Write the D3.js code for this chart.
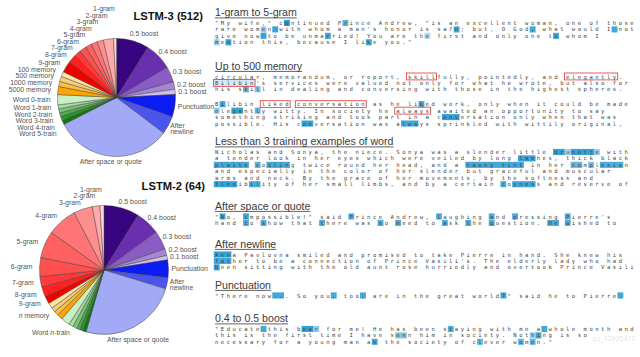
<!DOCTYPE html>
<html><head><meta charset="utf-8">
<script src="https://cdn.jsdelivr.net/npm/d3@7"></script>
<style>html,body{margin:0;padding:0;background:#fff;}svg{display:block}</style>
</head><body>
<svg id="c" width="640" height="357"></svg>
<script>
// ---------------- DATA ----------------
const categories = ["0.5 boost","0.4 boost","0.3 boost","0.2 boost","0.1 boost","Punctuation","After newline","After space or quote",
  "Word 5-train","Word 4-train","Word 3-train","Word 2-train","Word 1-train","Word 0-train",
  "5000 memory","1000 memory","500 memory","100 memory",
  "9-gram","8-gram","7-gram","6-gram","5-gram","4-gram","3-gram","2-gram","1-gram"];
// share of errors (%) per category
const lstm3Values = [8.9,7.5,4.3,2.1,1.4,6.1,5.0,32.2, 1.1,1.1,1.1,1.1,1.1,2.8, 2.2,1.4,1.4,1.4, 3.1,2.2,1.9,1.9,1.7,1.7,1.7,2.8,0.8];
const lstm2Values = [8.8,6.1,4.7,1.7,1.1,4.4,2.8,24.7, 0.8,0.8,0.8,1.1,1.1,2.2, 1.4,1.1,1.1,1.4, 1.9,2.5,2.6,4.7,6.7,7.5,4.7,1.9,1.0];
const lstm3Labels = categories.slice();
const lstm2Labels = ["0.5 boost","0.4 boost","0.3 boost","0.2 boost","0.1 boost","Punctuation","After newline","After space or quote",
  "Word n-train","Word n-train","Word n-train","Word n-train","Word n-train","Word n-train",
  "n memory","n memory","n memory","n memory",
  "9-gram","8-gram","7-gram","6-gram","5-gram","4-gram","3-gram","2-gram","1-gram"];
const pieTitles = ["LSTM-3 (512)","LSTM-2 (64)"];

const sectionTitles = ["1-gram to 5-gram","Up to 500 memory","Less than 3 training examples of word","After space or quote","After newline","Punctuation","0.4 to 0.5 boost"];
const sectionLines = [
 ['"My wife," continued Prince Andrew, "is an excellent woman, one of those',
  "rare women with whom a man's honor is safe; but, O God, what would I not",
  "give now to be unmarried! You are the first and only one to whom I",
  'mention this, because I like you."'],
 ["circular, memorandum, or report, skillfully, pointedly, and elegantly.",
  "Bilibin's services were valued not only for what he wrote, but also for",
  "his skill in dealing and conversing with those in the highest spheres.",
  "",
  "Bilibin liked conversation as he liked work, only when it could be made",
  "elegantly witty. In society he always awaited an opportunity to say",
  "something striking and took part in a conversation only when that was",
  "possible. His conversation was always sprinkled with wittily original,"],
 ["Nicholas and Sonya, the niece. Sonya was a slender little brunette with",
  "a tender look in her eyes which were veiled by long lashes, thick black",
  "plaits coiling twice round her head, and a tawny tint in her complexion",
  "and especially in the color of her slender but graceful and muscular",
  "arms and neck. By the grace of her movements, by the softness and",
  "flexibility of her small limbs, and by a certain coyness and reserve of"],
 ['"No, impossible!" said Prince Andrew, laughing and pressing Pierre\'s',
  "hand to show that there was no need to ask the question. He wished to"],
 ["Anna Pavlovna smiled and promised to take Pierre in hand. She knew his",
  "father to be a connection of Prince Vasili's. The elderly lady who had",
  "been sitting with the old aunt rose hurriedly and overtook Prince Vasili"],
 ['"There now... So you, too, are in the great world?" said he to Pierre.'],
 ['"Educate this bear for me! He has been staying with me a whole month and',
  "this is the first time I have seen him in society. Nothing is so",
  'necessary for a young man as the society of clever women."']
];
// [section, line, word, offset in word, length, activation]
const highlights = [
 [0,0,"continued",1,1,.95],[0,0,"Prince",1,1,.75],
 [0,1,"women",3,1,.45],[0,1,"women ",5,1,.9],[0,1,"safe;",3,1,.85],[0,1,"God,",3,1,.85],[0,1,"I not",1,1,.85],
 [0,2,"now to",3,1,.9],[0,2,"unmarried",4,1,.85],[0,2,"the first",2,1,.35],[0,2,"to whom",1,1,.85],
 [0,3,"mention",0,1,.45],[0,3,"mention",2,1,.9],[0,3,"like",2,1,.85],
 [1,1,"Bilibin",0,7,.2],[1,2,"skill",1,1,.7],[1,2,"skill",3,1,.6],
 [1,4,"Bilibin",1,1,.85],[1,4,"liked work",2,1,.85],
 [1,5,"elegantly",0,1,.5],[1,5,"elegantly",3,2,.9],[1,5,"elegantly",7,1,.7],
 [1,6,"conversation",1,3,.9],[1,7,"conversation",1,2,.9],[1,7,"always",1,3,.85],
 [2,0,"brunette",0,2,.9],[2,0,"brunette",2,1,.4],[2,0,"brunette",3,4,.9],[2,0,"brunette",7,1,.45],
 [2,1,"lashes",0,3,.9],
 [2,2,"plaits",0,6,.85],[2,2,"coiling",0,1,.75],[2,2,"coiling",2,4,.85],[2,2,"tawny tint",0,10,.85],
 [2,2,"complexion",0,2,.7],[2,2,"complexion",3,1,.6],[2,2,"complexion",5,4,.8],
 [2,5,"flexibility",0,4,.9],[2,5,"flexibility",6,2,.8],[2,5,"coyness",0,1,.8],[2,5,"coyness",2,4,.85],
 [3,0,"No,",0,1,.85],[3,0,"impossible",0,1,.85],[3,0,"Prince",0,1,.8],[3,0,"laughing",0,1,.8],[3,0,"and pressing",0,1,.8],[3,0,"pressing",0,1,.8],[3,0,"Pierre",0,1,.8],
 [3,1,"to show",0,1,.8],[3,1,"show",0,1,.8],[3,1,"there",0,1,.8],[3,1,"no need",0,1,.8],[3,1,"need",0,1,.8],[3,1,"ask",0,1,.8],[3,1,"the question",0,1,.8],[3,1,"question",0,1,.8],[3,1,"He",0,2,.8],[3,1,"wished",0,1,.8],
 [4,0,"Anna",0,3,.9],[4,1,"father",0,3,.85],[4,2,"been",0,1,.9],
 [5,0,"now...",3,2,.85],[5,0,"you,",3,1,.85],[5,0,"too,",3,1,.85],[5,0,"world?",5,1,.85],[5,0,"Pierre.",6,1,.85],
 [6,0,"Educate this",7,1,.85],[6,0,"bear",1,2,.9],[6,0,"bear",3,1,.5],[6,0,"staying",1,1,.8],[6,0,"a whole",1,1,.85],
 [6,1,"seen",1,2,.55],[6,1,"Nothing",3,1,.45],[6,1,"Nothing",4,1,.85],
 [6,2,"as the",1,1,.85],[6,2,"clever",1,1,.7],[6,2,"women",1,1,.7],[6,2,"women",3,1,.7]
];
// [section, line, word, offset, length]
const redBoxes = [[1,0,"skillfully",0,5],[1,0,"elegantly",0,9],[1,1,"Bilibin",0,7],[1,4,"liked",0,5],[1,4,"conversation",0,12],[1,5,"always",0,6]];
const watermark = "qq_42835423";

// ---------------- STYLE ----------------
const colors = ["#38047f","#6a2fae","#8b5cc4","#a586d3","#cfc0ef","#0b1cf2","#4b55ec","#a2a9f6",
  "#0e7a0e","#2a962a","#4cad4c","#7ac47a","#a6dca0","#c9f0c3",
  "#ffa400","#ffbf3c","#f6cf7c","#ffe3a0",
  "#f20000","#ff2020","#ff3a3a","#ff5050","#ff6060","#ff7474","#ff8e8e","#ffaaaa","#ffd6d6"];
const svg = d3.select("#c");
const SANS = "'Liberation Sans', Arial, sans-serif";

function drawPie(values, labels, cx, cy, r, title, titleRight, titleY) {
  const data = categories.map((c,i)=>({c, v: values[i], color: colors[i], label: labels[i]}));
  const arcs = d3.pie().sort(null).value(d=>d.v)(data);
  const arc = d3.arc().innerRadius(0).outerRadius(r);
  const g = svg.append("g").attr("transform", `translate(${cx},${cy})`);
  g.selectAll("path").data(arcs).join("path")
    .attr("d", arc).attr("fill", d=>d.data.color)
    .attr("stroke", "#3a3a3a").attr("stroke-width", 0.45).attr("stroke-linejoin","round");

  const groups = [];
  arcs.forEach(a => {
    const last = groups[groups.length-1];
    if (last && last.label === a.data.label) last.end = a.endAngle;
    else groups.push({label: a.data.label, start: a.startAngle, end: a.endAngle});
  });
  const R = r + 7, lh = 6.5;
  groups.forEach(gp => {
    const a = (gp.start+gp.end)/2, deg = a*180/Math.PI;
    gp.lines = gp.label === "After newline" ? ["After","newline"] : [gp.label];
    gp.h = gp.lines.length*lh;
    gp.x = R*Math.sin(a); gp.y = -R*Math.cos(a);
    if (deg >= 140 && deg <= 200) { gp.side = "mid"; gp.y = r + 5; }
    else gp.side = Math.sin(a) < 0 ? "left" : "right";
  });
  ["left","right"].forEach(side => {
    const items = groups.filter(d=>d.side===side);
    const up = items.filter(d=>d.y<0).sort((a,b)=>b.y-a.y);
    const down = items.filter(d=>d.y>=0).sort((a,b)=>a.y-b.y);
    for (let i=1;i<up.length;i++) up[i].y = Math.min(up[i].y, up[i-1].y - (up[i].h+up[i-1].h)/2);
    for (let i=1;i<down.length;i++) down[i].y = Math.max(down[i].y, down[i-1].y + (down[i].h+down[i-1].h)/2);
  });
  groups.forEach(gp => {
    const lim = Math.sqrt(Math.max(0, (r+3)*(r+3) - gp.y*gp.y));
    if (gp.side === "left") gp.x = Math.min(gp.x, -lim);
    if (gp.side === "right") gp.x = Math.max(gp.x - 5, lim);
    const t = g.append("text")
      .attr("x", gp.x).attr("y", gp.y - (gp.lines.length-1)*lh/2)
      .attr("text-anchor", gp.side==="left"?"end":gp.side==="right"?"start":"middle")
      .attr("font-family", SANS).attr("font-size", 6.9).attr("fill", "#555");
    gp.lines.forEach((ln,k) => {
      const tl = t.append("tspan").attr("x", gp.x).attr("dy", k===0 ? "0.35em" : lh);
      ln.split(/\b(n)\b/).forEach(p => { if (!p) return; const s = tl.append("tspan").text(p); if (p === "n") s.attr("font-style","italic"); });
    });
  });
  svg.append("text").attr("x", titleRight).attr("y", titleY).attr("text-anchor","end")
    .attr("font-family", SANS).attr("font-weight","bold").attr("font-size", 11.2).attr("fill","#111").text(title);
}
drawPie(lstm3Values, lstm3Labels, 116.5, 97.5, 59, pieTitles[0], 203, 19.5);
drawPie(lstm2Values, lstm2Labels, 104, 270, 64.5, pieTitles[1], 205, 189.5);

// ---------------- TEXT PANELS ----------------
const X0 = 215, PITCH = 5.85, LH = 6.45;
const headingY = [12.5, 66, 141.5, 206, 244, 285, 318.5];
const lineY = [];
sectionLines.forEach((lines, s) => {
  let y = headingY[s] + 10.5;
  const ys = lines.map(l => { const v = y; y += l ? LH : LH*1.3; return v; });
  lineY.push(ys);
  const ht = svg.append("text").attr("x", X0).attr("y", headingY[s] + 3.8)
    .attr("font-family", SANS).attr("font-size", 10.6).attr("fill", "#3a3a3a").text(sectionTitles[s]);
  const w = ht.node().getComputedTextLength();
  svg.append("line").attr("x1", X0).attr("x2", X0 + w).attr("y1", headingY[s]+5.4).attr("y2", headingY[s]+5.4)
    .attr("stroke", "#3a3a3a").attr("stroke-width", 0.8);
});
function charIndex(s, l, word, off) { return sectionLines[s][l].indexOf(word) + off; }
svg.append("g").selectAll("rect").data(highlights).join("rect")
  .attr("x", d => X0 + charIndex(d[0],d[1],d[2],d[3])*PITCH - 1.2)
  .attr("y", d => lineY[d[0]][d[1]] - 3.1)
  .attr("width", d => d[4]*PITCH).attr("height", 6.1)
  .attr("fill", "rgb(34,152,212)").attr("fill-opacity", d => d[5]);
sectionLines.forEach((lines, s) => {
  lines.forEach((ln, i) => {
    if (!ln) return;
    svg.append("text")
      .attr("x", d3.range(ln.length).map(k => (X0 + k*PITCH).toFixed(2)).join(" "))
      .attr("y", lineY[s][i] + 2)
      .attr("font-family", "'DejaVu Sans Mono', monospace").attr("font-size", 5.6)
      .attr("fill", "#444").style("white-space","pre").text(ln);
  });
});
svg.append("g").selectAll("rect").data(redBoxes).join("rect")
  .attr("x", d => X0 + charIndex(d[0],d[1],d[2],d[3])*PITCH - 1.6)
  .attr("y", d => lineY[d[0]][d[1]] - 3.5)
  .attr("width", d => d[4]*PITCH + 0.7).attr("height", 6.9)
  .attr("fill", "none").attr("stroke", "#e03434").attr("stroke-width", 0.8);

svg.append("text").attr("x", 592).attr("y", 340.5).attr("text-anchor","start")
  .attr("font-family", SANS).attr("font-size", 7).attr("fill", "#000").attr("fill-opacity", 0.14)
  .text(watermark);
</script>
</body></html>
